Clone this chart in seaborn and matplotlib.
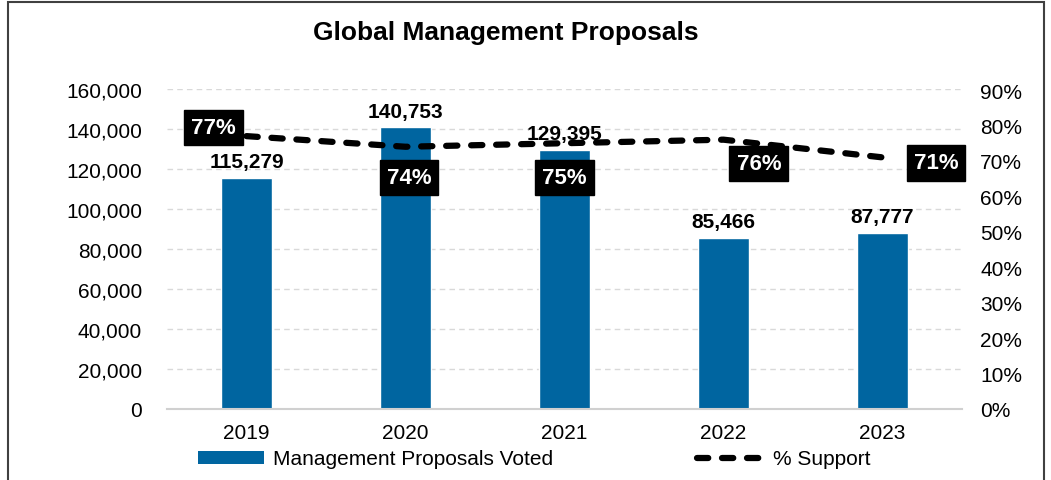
import matplotlib
matplotlib.use("Agg")
import matplotlib.pyplot as plt
from matplotlib.lines import Line2D
from matplotlib.patches import Patch, Rectangle
import seaborn as sns
import pandas as pd

years = ["2019", "2020", "2021", "2022", "2023"]
proposals_voted = [115279, 140753, 129395, 85466, 87777]
pct_support = [77, 74, 75, 76, 71]
left_ticks = [0, 20000, 40000, 60000, 80000, 100000, 120000, 140000, 160000]
right_ticks = [0, 10, 20, 30, 40, 50, 60, 70, 80, 90]

# offsets (points) for the percentage boxes relative to each line point
pct_offsets = [(-24, 6), (2.5, -22), (0, -24.5), (25.5, -17), (38.5, -4)]

sns.set_theme(style="white")
plt.rcParams["font.family"] = ["Liberation Sans", "DejaVu Sans"]
for key in ["text.color", "axes.labelcolor", "xtick.color", "ytick.color"]:
    plt.rcParams[key] = "black"

bar_color = "#0065A0"
fs = 15
df = pd.DataFrame({"year": years, "voted": proposals_voted, "support": pct_support})

fig = plt.figure(figsize=(10.51, 4.81), dpi=100)
ax = fig.add_axes([0.1589, 0.14761, 0.7564, 0.6653])

sns.barplot(data=df, x="year", y="voted", color=bar_color, width=0.315,
            saturation=1, ax=ax, zorder=2)
ax.set_ylim(0, 160000)
ax.set_xlim(-0.5, 4.5)
ax.set_yticks(left_ticks)
ax.set_yticklabels([f"{v:,}" for v in left_ticks])
ax.yaxis.grid(True, color="#d9d9d9", linestyle=(0, (4, 3)), linewidth=1)
ax.set_axisbelow(True)
ax.set_xlabel("")
ax.set_ylabel("")
for s in ["top", "right", "left"]:
    ax.spines[s].set_visible(False)
ax.spines["bottom"].set_color("#d0d0d0")
ax.spines["bottom"].set_linewidth(1.5)
ax.tick_params(axis="both", length=0, labelsize=fs, colors="black")
ax.tick_params(axis="x", pad=10)
ax.tick_params(axis="y", pad=18)

for i, v in enumerate(proposals_voted):
    ax.annotate(f"{v:,}", (i, v), xytext=(0, 5), textcoords="offset points",
                ha="center", va="bottom", fontsize=fs, fontweight="bold", color="black")

ax2 = ax.twinx()
sns.lineplot(data=df, x="year", y="support", ax=ax2, color="black",
             linewidth=4.5, zorder=3)
line = ax2.get_lines()[0]
line.set_dashes((1.8, 2.2))
line.set_dash_capstyle("round")
ax2.set_ylim(0, 90.3)
ax2.set_yticks(right_ticks)
ax2.set_yticklabels([f"{v}%" for v in right_ticks])
ax2.set_ylabel("")
for s in ["top", "right", "left", "bottom"]:
    ax2.spines[s].set_visible(False)
ax2.tick_params(axis="y", length=0, labelsize=fs, colors="black", pad=13)

for i, (v, off) in enumerate(zip(pct_support, pct_offsets)):
    ax2.annotate(f"{v}%", (i, v), xytext=off, textcoords="offset points",
                 ha="center", va="center", fontsize=16, fontweight="bold", color="white",
                 bbox=dict(boxstyle="square,pad=0.32", fc="black", ec="black"), zorder=5)

fig.text(0.4815, 0.931, "Global Management Proposals", ha="center", va="center",
         fontsize=19, fontweight="bold", color="black")

handles = [Patch(facecolor=bar_color, edgecolor="none"),
           Line2D([0], [0], color="black", linewidth=4.5, linestyle=(0, (1.8, 2.2)),
                  dash_capstyle="round")]
fig.legend(handles, ["Management Proposals Voted", "% Support"], loc="center",
           bbox_to_anchor=(0.508, 0.0437), ncol=2, frameon=False, fontsize=fs,
           handlelength=3.2, handleheight=0.6, handletextpad=0.43, columnspacing=6.9)

fig.add_artist(Rectangle((0.008, -0.05), 0.985, 1.044, transform=fig.transFigure,
                         fill=False, edgecolor="#404040", linewidth=1.5))

fig.savefig("out.png", dpi=100)
